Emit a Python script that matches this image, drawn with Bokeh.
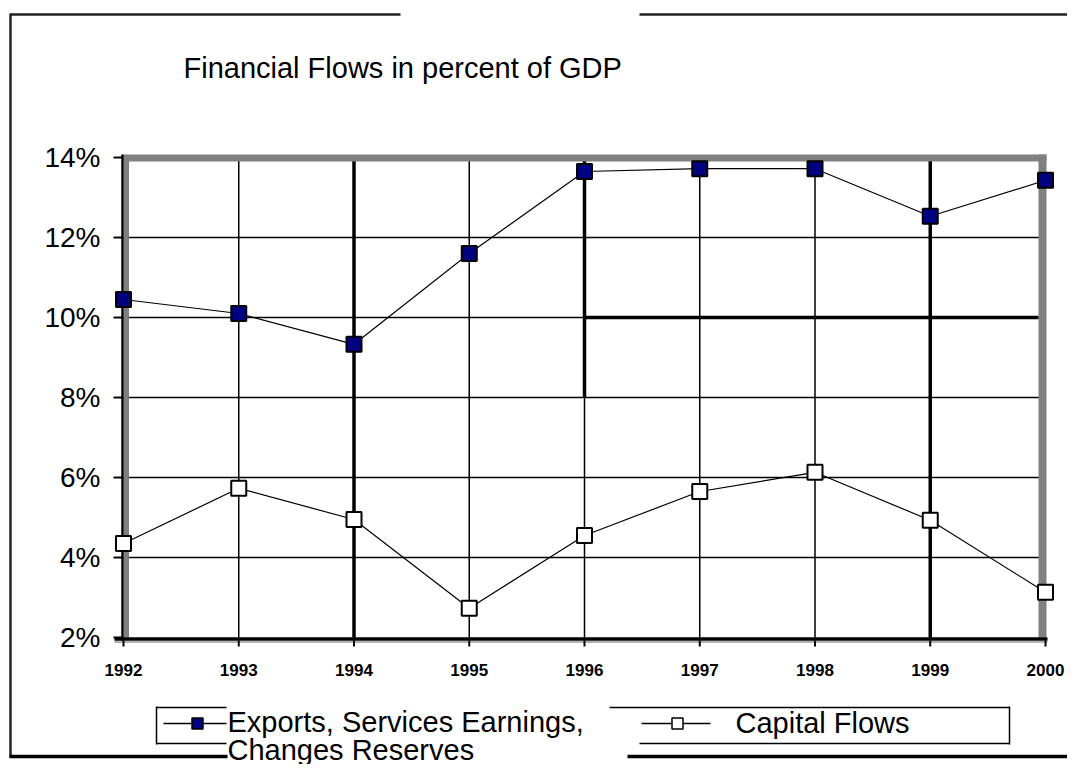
from bokeh.plotting import figure
from bokeh.models import Range1d, FixedTicker
from bokeh.embed import file_html
from bokeh.resources import INLINE
from bokeh.core.properties import value

# ---------------- data ----------------
years = [1992, 1993, 1994, 1995, 1996, 1997, 1998, 1999, 2000]
x_tick_labels = ["1992", "1993", "1994", "1995", "1996", "1997", "1998", "1999", "2000"]
exports = [10.45, 10.1, 9.33, 11.6, 13.65, 13.72, 13.72, 12.53, 13.43]
capital = [4.35, 5.73, 4.95, 2.73, 4.55, 5.65, 6.13, 4.93, 3.13]
y_ticks = [2, 4, 6, 8, 10, 12, 14]
y_tick_labels = ["2%", "4%", "6%", "8%", "10%", "12%", "14%"]
heavy_years = [1994, 1999]
title_text = "Financial Flows in percent of GDP"
legend_exports = ["Exports, Services Earnings,", "Changes Reserves"]
legend_capital = "Capital Flows"

# ---------------- layout (canvas pixels) ----------------
W, H = 1067, 764
X0_PX, X1_PX = 123, 1045      # pixel of first / last year
YT_PX, YB_PX = 157, 637       # pixel of top / bottom y tick
ppy = (X1_PX - X0_PX) / (years[-1] - years[0])
ppv = (YB_PX - YT_PX) / (y_ticks[-1] - y_ticks[0])


def dx(px):
    return years[0] + (px - X0_PX) / ppy


def dy(py):
    return y_ticks[-1] - (py - YT_PX) / ppv


FONT = "Liberation Sans"

p = figure(width=W, height=H, output_backend="svg", toolbar_location=None,
           x_range=Range1d(dx(0), dx(W)), y_range=Range1d(dy(H), dy(0)),
           min_border=0, min_border_left=0, min_border_right=0,
           min_border_top=0, min_border_bottom=0)
p.outline_line_color = None
p.background_fill_color = "white"
p.border_fill_color = "white"
p.xgrid.visible = False
p.ygrid.visible = False

# axes (placed at the data origin of the chart), labels only
p.xaxis.fixed_location = y_ticks[0]
p.yaxis.fixed_location = years[0]
p.xaxis.ticker = FixedTicker(ticks=years)
p.xaxis.major_label_overrides = {y: t for y, t in zip(years, x_tick_labels)}
p.yaxis.ticker = FixedTicker(ticks=y_ticks)
p.yaxis.major_label_overrides = {v: t for v, t in zip(y_ticks, y_tick_labels)}
for ax in (p.xaxis, p.yaxis):
    ax.axis_line_color = None
    ax.major_tick_line_color = None
    ax.minor_tick_line_color = None
    ax.major_tick_in = 0
    ax.major_tick_out = 0
    ax.major_label_text_color = "black"
    ax.major_label_text_font = FONT
p.xaxis.major_label_text_font_size = "17px"
p.xaxis.major_label_text_font_style = "bold"
p.xaxis.major_label_standoff = 26
p.yaxis.major_label_text_font_size = "28px"
p.yaxis.major_label_standoff = 23


def seg(pts, w=2.0, c="black"):
    """pts: list of (x0, y0, x1, y1) in canvas pixels"""
    p.segment(x0=[dx(a) for a, _, _, _ in pts], y0=[dy(b) for _, b, _, _ in pts],
              x1=[dx(c_) for _, _, c_, _ in pts], y1=[dy(d) for _, _, _, d in pts],
              line_color=c, line_width=w)


# grid lines
inner = y_ticks[1:-1]
p.segment(x0=[years[0]] * len(inner), y0=inner, x1=[years[-1]] * len(inner), y1=inner,
          line_color="black", line_width=1.5)
vy = years[1:-1]
p.segment(x0=vy, y0=[y_ticks[0]] * len(vy), x1=vy, y1=[y_ticks[-1]] * len(vy),
          line_color="black", line_width=1.5)
p.segment(x0=heavy_years, y0=[y_ticks[0]] * len(heavy_years), x1=heavy_years,
          y1=[y_ticks[-1]] * len(heavy_years), line_color="black", line_width=3.5)
# scan artefacts: heavy partial lines
p.segment(x0=[years[4]], y0=[y_ticks[3]], x1=[years[4]], y1=[y_ticks[-1]],
          line_color="black", line_width=3.5)
p.segment(x0=[years[4]], y0=[y_ticks[4]], x1=[dx(1038)], y1=[y_ticks[4]],
          line_color="black", line_width=3.5)

# plot frame
seg([(123, 157.5, 1046, 157.5)], 7, "#808080")
seg([(126, 157, 126, 637)], 5, "#808080")
seg([(1042, 154, 1042, 637)], 8, "#808080")
seg([(122, 154, 122, 640)], 2.5)
seg([(114, 638.5, 1047, 638.5)], 3.5)
seg([(114, 641.5, 1047, 641.5)], 1.5, "#999999")
# tick marks
p.segment(x0=years, y0=[dy(640)] * len(years), x1=years, y1=[dy(646)] * len(years),
          line_color="black", line_width=2)
p.segment(x0=[dx(113)] * len(y_ticks), y0=y_ticks, x1=[dx(122)] * len(y_ticks), y1=y_ticks,
          line_color="black", line_width=2)

# data
p.line(years, exports, line_color="black", line_width=1.2)
p.line(years, capital, line_color="black", line_width=1.2)
p.scatter(years, exports, marker="square", size=15, fill_color="#000080",
          line_color="black", line_width=2)
p.scatter(years, capital, marker="square", size=15, fill_color="white",
          line_color="black", line_width=2)


def txt(px, py, s, size="29px"):
    p.text(x=[dx(px)], y=[dy(py)], text=[s], text_font=value(FONT),
           text_font_size=value(size), text_align="left", text_baseline="middle",
           text_color="black")


# title
txt(183, 67, title_text)

# outer chart border (scanned page)
seg([(10, 14, 400, 14), (639, 14, 1067, 14), (10, 13, 10, 757)], 2.5, "#222222")
seg([(9, 756, 227, 756), (627, 756, 1067, 756)], 3.5)

# legend 1
seg([(156, 707, 226, 707), (156, 706, 156, 744), (156, 743, 226, 743),
     (163, 723, 226, 723)], 1.5)
p.scatter([dx(197)], [dy(723)], marker="square", size=11, fill_color="#000080",
          line_color="black", line_width=1.5)
txt(227, 721, legend_exports[0])
txt(227, 749, legend_exports[1])

# legend 2
seg([(609, 707, 1009, 707), (1009, 706, 1009, 744), (639, 743, 1009, 743),
     (641, 723, 710, 723)], 1.5)
p.scatter([dx(677)], [dy(723)], marker="square", size=11, fill_color="white",
          line_color="black", line_width=1.5)
txt(735, 722, legend_capital)

open("out.html", "w").write(file_html(p, INLINE))
